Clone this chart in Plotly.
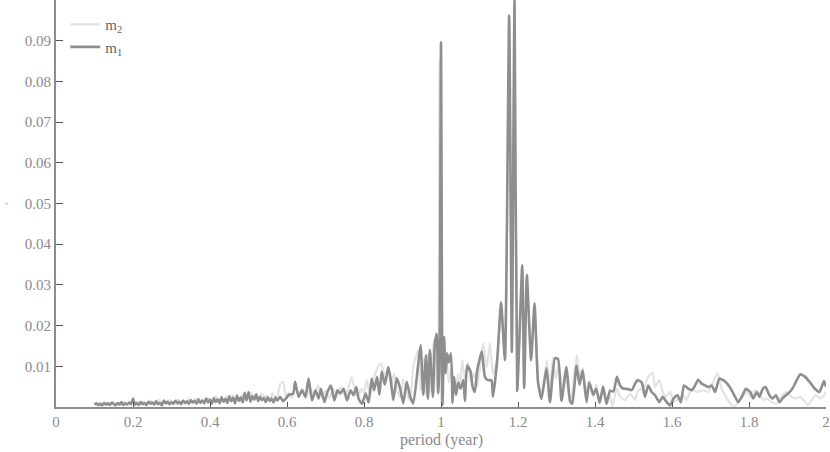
import plotly.graph_objects as go

# m1 spectrum (dark line)
m1_x = [
    0.100, 0.105, 0.110, 0.115, 0.120, 0.125, 0.130, 0.135, 0.140, 0.145,
    0.150, 0.155, 0.160, 0.165, 0.170, 0.175, 0.180, 0.185, 0.190, 0.195,
    0.200, 0.205, 0.210, 0.215, 0.220, 0.225, 0.230, 0.235, 0.240, 0.245,
    0.250, 0.255, 0.260, 0.265, 0.270, 0.275, 0.280, 0.285, 0.290, 0.295,
    0.300, 0.305, 0.310, 0.315, 0.320, 0.325, 0.330, 0.335, 0.340, 0.345,
    0.350, 0.355, 0.360, 0.365, 0.370, 0.375, 0.380, 0.385, 0.390, 0.395,
    0.400, 0.405, 0.410, 0.415, 0.420, 0.425, 0.430, 0.435, 0.440, 0.445,
    0.450, 0.455, 0.460, 0.465, 0.470, 0.475, 0.480, 0.485, 0.490, 0.495,
    0.500, 0.505, 0.510, 0.515, 0.520, 0.525, 0.530, 0.535, 0.540, 0.545,
    0.550, 0.555, 0.560, 0.565, 0.570, 0.575, 0.582, 0.590, 0.598, 0.605,
    0.616, 0.621, 0.630, 0.639, 0.648, 0.656, 0.665, 0.674, 0.682, 0.688,
    0.697, 0.705, 0.714, 0.723, 0.731, 0.738, 0.747, 0.756, 0.765, 0.773,
    0.780, 0.786, 0.795, 0.804, 0.812, 0.820, 0.826, 0.834, 0.840, 0.846,
    0.854, 0.863, 0.869, 0.876, 0.885, 0.894, 0.902, 0.911, 0.920, 0.928,
    0.941, 0.947, 0.954, 0.961, 0.966, 0.971, 0.979, 0.984, 0.989, 0.993,
    0.996, 1.000, 1.004, 1.008, 1.012, 1.016, 1.020, 1.026, 1.030, 1.034,
    1.039, 1.045, 1.051, 1.058, 1.062, 1.068, 1.077, 1.082, 1.088, 1.094,
    1.106, 1.114, 1.122, 1.131, 1.135, 1.146, 1.156, 1.166, 1.177, 1.184,
    1.191, 1.198, 1.211, 1.216, 1.223, 1.234, 1.243, 1.252, 1.261, 1.274,
    1.283, 1.296, 1.304, 1.313, 1.326, 1.335, 1.341, 1.352, 1.360, 1.368,
    1.378, 1.385, 1.396, 1.403, 1.412, 1.421, 1.430, 1.439, 1.448, 1.457,
    1.465, 1.474, 1.482, 1.495, 1.504, 1.510, 1.521, 1.530, 1.538, 1.547,
    1.556, 1.567, 1.576, 1.586, 1.595, 1.604, 1.614, 1.623, 1.631, 1.642,
    1.651, 1.660, 1.668, 1.677, 1.686, 1.694, 1.703, 1.712, 1.723, 1.733,
    1.744, 1.755, 1.764, 1.772, 1.781, 1.792, 1.803, 1.811, 1.820, 1.827,
    1.836, 1.843, 1.853, 1.861, 1.870, 1.879, 1.887, 1.896, 1.906, 1.915,
    1.924, 1.933, 1.946, 1.958, 1.971, 1.983, 1.995, 2.000,
]
m1_y = [
    0.0006, 0.0009, 0.0005, 0.0008, 0.0004, 0.0010, 0.0006, 0.0009, 0.0005, 0.0011,
    0.0007, 0.0004, 0.0010, 0.0006, 0.0012, 0.0005, 0.0009, 0.0006, 0.0011, 0.0007,
    0.0021, 0.0006, 0.0010, 0.0005, 0.0012, 0.0007, 0.0010, 0.0005, 0.0013, 0.0008,
    0.0011, 0.0006, 0.0014, 0.0007, 0.0010, 0.0004, 0.0016, 0.0009, 0.0013, 0.0007,
    0.0012, 0.0008, 0.0015, 0.0009, 0.0013, 0.0007, 0.0016, 0.0010, 0.0014, 0.0008,
    0.0017, 0.0011, 0.0015, 0.0008, 0.0019, 0.0010, 0.0016, 0.0009, 0.0021, 0.0011,
    0.0018, 0.0008, 0.0022, 0.0012, 0.0019, 0.0009, 0.0024, 0.0013, 0.0020, 0.0010,
    0.0026, 0.0014, 0.0023, 0.0009, 0.0028, 0.0015, 0.0024, 0.0011, 0.0035, 0.0016,
    0.0037, 0.0013, 0.0027, 0.0018, 0.0031, 0.0014, 0.0025, 0.0017, 0.0022, 0.0012,
    0.0024, 0.0015, 0.0021, 0.0011, 0.0023, 0.0016, 0.0025, 0.0014, 0.0022, 0.0030,
    0.0033, 0.0062, 0.0025, 0.0041, 0.0025, 0.0070, 0.0016, 0.0041, 0.0021, 0.0045,
    0.0012, 0.0037, 0.0053, 0.0016, 0.0041, 0.0033, 0.0045, 0.0016, 0.0041, 0.0029,
    0.0049, 0.0020, 0.0008, 0.0033, 0.0012, 0.0070, 0.0041, 0.0074, 0.0030, 0.0087,
    0.0055, 0.0098, 0.0070, 0.0017, 0.0071, 0.0045, 0.0009, 0.0062, 0.0025, 0.0009,
    0.0107, 0.0152, 0.0030, 0.0127, 0.0020, 0.0140, 0.0025, 0.0156, 0.0180, 0.0033,
    0.0100, 0.0896, 0.0005, 0.0172, 0.0083, 0.0132, 0.0110, 0.0132, 0.0010, 0.0074,
    0.0030, 0.0060, 0.0045, 0.0066, 0.0015, 0.0102, 0.0086, 0.0050, 0.0037, 0.0090,
    0.0136, 0.0074, 0.0066, 0.0066, 0.0025, 0.0115, 0.0258, 0.0115, 0.0962, 0.0135,
    0.0999, 0.0040, 0.0348, 0.0047, 0.0324, 0.0115, 0.0255, 0.0060, 0.0020, 0.0095,
    0.0012, 0.0120, 0.0118, 0.0015, 0.0098, 0.0015, 0.0008, 0.0102, 0.0055, 0.0090,
    0.0012, 0.0060, 0.0030, 0.0045, 0.0010, 0.0050, 0.0008, 0.0040, 0.0038, 0.0074,
    0.0053, 0.0045, 0.0045, 0.0041, 0.0057, 0.0066, 0.0061, 0.0025, 0.0053, 0.0037,
    0.0029, 0.0012, 0.0025, 0.0012, 0.0004, 0.0021, 0.0029, 0.0012, 0.0053, 0.0045,
    0.0041, 0.0053, 0.0067, 0.0057, 0.0053, 0.0049, 0.0053, 0.0037, 0.0070, 0.0066,
    0.0057, 0.0041, 0.0025, 0.0012, 0.0025, 0.0045, 0.0037, 0.0021, 0.0037, 0.0025,
    0.0045, 0.0049, 0.0029, 0.0021, 0.0029, 0.0012, 0.0021, 0.0029, 0.0037, 0.0049,
    0.0066, 0.0080, 0.0074, 0.0061, 0.0045, 0.0037, 0.0064, 0.0049,
]

# m2 spectrum (light line, drawn underneath)
m2_x = [
    0.100, 0.107, 0.114, 0.121, 0.128, 0.135, 0.142, 0.149, 0.156, 0.163,
    0.170, 0.177, 0.184, 0.191, 0.198, 0.205, 0.212, 0.219, 0.226, 0.233,
    0.240, 0.247, 0.254, 0.261, 0.268, 0.275, 0.282, 0.289, 0.296, 0.303,
    0.310, 0.317, 0.324, 0.331, 0.338, 0.345, 0.352, 0.359, 0.366, 0.373,
    0.380, 0.387, 0.394, 0.401, 0.408, 0.415, 0.422, 0.429, 0.436, 0.443,
    0.450, 0.457, 0.464, 0.471, 0.478, 0.485, 0.492, 0.499, 0.506, 0.513,
    0.520, 0.527, 0.534, 0.541, 0.548, 0.555, 0.562, 0.569, 0.576, 0.583,
    0.590, 0.597, 0.604, 0.612, 0.621, 0.630, 0.640, 0.650, 0.660, 0.670,
    0.681, 0.690, 0.700, 0.710, 0.720, 0.730, 0.740, 0.750, 0.759, 0.768,
    0.776, 0.784, 0.793, 0.800, 0.807, 0.815, 0.822, 0.830, 0.837, 0.844,
    0.850, 0.857, 0.863, 0.870, 0.878, 0.886, 0.894, 0.902, 0.911, 0.920,
    0.928, 0.941, 0.947, 0.954, 0.961, 0.966, 0.971, 0.979, 0.984, 0.989,
    0.993, 0.996, 1.000, 1.004, 1.008, 1.014, 1.020, 1.028, 1.036, 1.044,
    1.050, 1.055, 1.062, 1.070, 1.078, 1.086, 1.094, 1.102, 1.110, 1.118,
    1.127, 1.135, 1.146, 1.156, 1.166, 1.177, 1.184, 1.191, 1.198, 1.211,
    1.216, 1.223, 1.234, 1.243, 1.252, 1.261, 1.268, 1.275, 1.283, 1.290,
    1.298, 1.306, 1.314, 1.322, 1.330, 1.338, 1.346, 1.353, 1.360, 1.368,
    1.376, 1.385, 1.394, 1.403, 1.412, 1.421, 1.430, 1.438, 1.445, 1.452,
    1.458, 1.465, 1.478, 1.491, 1.504, 1.512, 1.525, 1.538, 1.550, 1.556,
    1.567, 1.576, 1.584, 1.595, 1.604, 1.617, 1.630, 1.638, 1.651, 1.664,
    1.681, 1.694, 1.707, 1.718, 1.729, 1.740, 1.752, 1.761, 1.772, 1.784,
    1.794, 1.804, 1.815, 1.827, 1.837, 1.846, 1.859, 1.872, 1.885, 1.896,
    1.906, 1.919, 1.933, 1.946, 1.954, 1.965, 1.975, 1.984, 1.995, 2.000,
]
m2_y = [
    0.0008, 0.0004, 0.0010, 0.0006, 0.0011, 0.0005, 0.0009, 0.0012, 0.0006, 0.0010,
    0.0005, 0.0013, 0.0007, 0.0010, 0.0015, 0.0008, 0.0012, 0.0006, 0.0014, 0.0009,
    0.0011, 0.0016, 0.0007, 0.0012, 0.0018, 0.0008, 0.0013, 0.0010, 0.0017, 0.0009,
    0.0014, 0.0019, 0.0010, 0.0015, 0.0008, 0.0020, 0.0012, 0.0016, 0.0022, 0.0011,
    0.0018, 0.0013, 0.0024, 0.0012, 0.0020, 0.0027, 0.0014, 0.0021, 0.0011, 0.0026,
    0.0016, 0.0030, 0.0018, 0.0025, 0.0013, 0.0032, 0.0020, 0.0028, 0.0036, 0.0022,
    0.0030, 0.0017, 0.0033, 0.0024, 0.0028, 0.0018, 0.0034, 0.0021, 0.0030, 0.0058,
    0.0062, 0.0028, 0.0035, 0.0022, 0.0050, 0.0030, 0.0045, 0.0020, 0.0048, 0.0030,
    0.0054, 0.0025, 0.0040, 0.0022, 0.0046, 0.0030, 0.0050, 0.0028, 0.0045, 0.0074,
    0.0040, 0.0025, 0.0045, 0.0035, 0.0066, 0.0030, 0.0060, 0.0085, 0.0100, 0.0107,
    0.0090, 0.0060, 0.0095, 0.0050, 0.0082, 0.0040, 0.0025, 0.0068, 0.0035, 0.0015,
    0.0100, 0.0140, 0.0040, 0.0120, 0.0030, 0.0130, 0.0035, 0.0145, 0.0165, 0.0040,
    0.0090, 0.0850, 0.0015, 0.0160, 0.0095, 0.0125, 0.0060, 0.0100, 0.0035, 0.0080,
    0.0060, 0.0115, 0.0070, 0.0110, 0.0060, 0.0085, 0.0050, 0.0110, 0.0157, 0.0095,
    0.0157, 0.0080, 0.0120, 0.0240, 0.0125, 0.0900, 0.0150, 0.0940, 0.0050, 0.0330,
    0.0060, 0.0300, 0.0120, 0.0240, 0.0070, 0.0030, 0.0070, 0.0115, 0.0040, 0.0120,
    0.0070, 0.0105, 0.0030, 0.0090, 0.0040, 0.0020, 0.0080, 0.0127, 0.0075, 0.0095,
    0.0030, 0.0065, 0.0025, 0.0055, 0.0020, 0.0045, 0.0015, 0.0030, 0.0002, 0.0030,
    0.0045, 0.0025, 0.0017, 0.0033, 0.0017, 0.0041, 0.0045, 0.0074, 0.0084, 0.0049,
    0.0066, 0.0037, 0.0025, 0.0037, 0.0012, 0.0021, 0.0029, 0.0017, 0.0045, 0.0037,
    0.0041, 0.0037, 0.0061, 0.0084, 0.0045, 0.0025, 0.0008, 0.0000, 0.0012, 0.0025,
    0.0037, 0.0025, 0.0041, 0.0033, 0.0017, 0.0021, 0.0012, 0.0008, 0.0025, 0.0037,
    0.0029, 0.0021, 0.0025, 0.0012, 0.0004, 0.0021, 0.0029, 0.0021, 0.0029, 0.0037,
]

x_ticks = [0, 0.2, 0.4, 0.6, 0.8, 1, 1.2, 1.4, 1.6, 1.8, 2]
y_ticks = [0.01, 0.02, 0.03, 0.04, 0.05, 0.06, 0.07, 0.08, 0.09]

font_family = "Liberation Serif, DejaVu Serif, serif"
axis_col = "#8c8c8c"

fig = go.Figure()
fig.add_trace(go.Scatter(x=m2_x, y=m2_y, mode="lines", name="m<sub>2</sub>",
                         line=dict(color="#e3e3e3", width=2.2, shape="spline", smoothing=0.5)))
fig.add_trace(go.Scatter(x=m1_x, y=m1_y, mode="lines", name="m<sub>1</sub>",
                         line=dict(color="#8e8e8e", width=2.6, shape="spline", smoothing=0.5)))

fig.update_layout(
    width=830, height=452,
    margin=dict(l=56, r=4, t=0, b=45),
    plot_bgcolor="white", paper_bgcolor="white",
    font=dict(family=font_family, size=15, color="#8a8a8a"),
    showlegend=True,
    legend=dict(x=0.012, y=0.98, xanchor="left", yanchor="top",
                bgcolor="rgba(0,0,0,0)", font=dict(size=15, color="#666"),
                tracegroupgap=0, itemwidth=30),
    annotations=[
        dict(text="period (year)", xref="paper", yref="paper", x=0.5, y=-0.082,
             xanchor="center", yanchor="middle", showarrow=False,
             font=dict(size=16, color="#8a8a8a")),
        dict(text="ε", xref="paper", yref="paper", x=-0.066, y=0.5,
             xanchor="center", yanchor="middle", showarrow=False, textangle=-90,
             font=dict(size=6, color="#8a8a8a")),
    ],
)
fig.update_xaxes(
    range=[0, 2], tickvals=x_ticks, ticks="inside", ticklen=5, tickwidth=1,
    tickcolor="#555", showline=True, linecolor=axis_col, linewidth=2,
    showgrid=False, zeroline=False, automargin=False,
)
fig.update_yaxes(
    range=[0, 0.1], tickvals=y_ticks, ticks="inside", ticklen=7, tickwidth=1,
    tickcolor="#555", showline=True, linecolor=axis_col, linewidth=2,
    showgrid=False, zeroline=False, automargin=False,
)

# the page body has a default 8px margin; drop it so the figure sits at the corner
fig.write_html("out.html", config={"displayModeBar": False},
               post_script="document.body.style.margin='0px';")
